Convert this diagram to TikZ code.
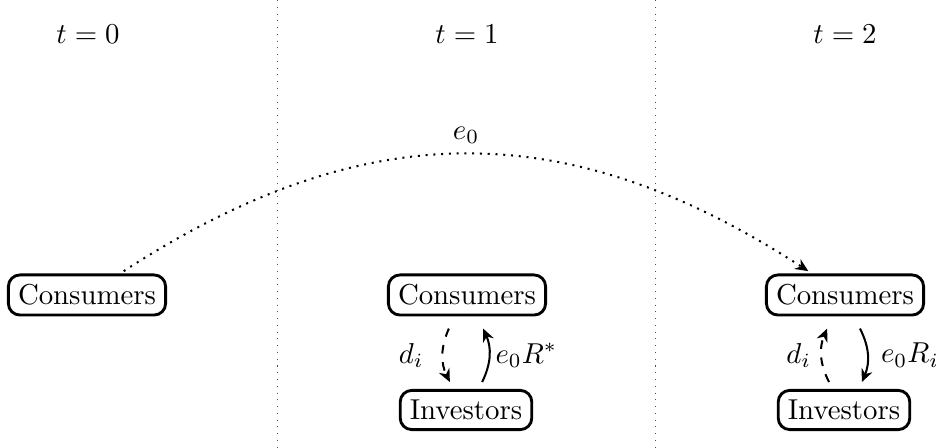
\documentclass[tikz,border=0pt]{standalone}
\usetikzlibrary{arrows.meta}
\begin{document}
\begin{tikzpicture}[x=0.3472pt,y=0.3472pt,
  agent/.style={draw,rounded corners=4pt,line width=1pt,inner sep=3.33pt},
  flow/.style={line width=0.7pt,-{Stealth[length=4.5pt,width=4pt]}},
  divider/.style={dotted,line width=0.35pt,black!70}]
\useasboundingbox (0,0) rectangle (936,-448);
% period dividers
\coordinate (d1t) at (277,0); \coordinate (d1b) at (277,-448);
\coordinate (d2t) at (655,0); \coordinate (d2b) at (655,-448);
\draw[divider] (d1t) -- (d1b);
\draw[divider] (d2t) -- (d2b);
% time labels
\node (t0) at (88,-34) {$t=0$};
\node (t1) at (467,-34) {$t=1$};
\node (t2) at (845,-34) {$t=2$};
% agents
\node[agent] (c0) at (87,-295) {Consumers};
\node[agent] (c1) at (467,-295) {Consumers};
\node[agent] (c2) at (845,-295) {Consumers};
\node[agent] (i1) at (466,-410) {Investors};
\node[agent] (i2) at (844,-410) {Investors};
% endowment carried to t=2
\draw[flow,dotted,shorten <=1.5pt,shorten >=1.5pt] (c0) to[out=33,in=147,looseness=1.08] node[above]{$e_0$} (c2);
% t=1 flows
\draw[flow,dashed] ([xshift=-6.3pt,yshift=-4.2pt]c1.south) to[bend right=25]
  node[left,xshift=-3pt]{$d_i$} ([xshift=-5.6pt,yshift=2.4pt]i1.north);
\draw[flow] ([xshift=5.6pt,yshift=2.4pt]i1.north) to[bend right=25]
  node[right,xshift=-1.5pt]{$e_0R^{*}$} ([xshift=5.6pt,yshift=-4.2pt]c1.south);
% t=2 flows
\draw[flow,dashed] ([xshift=-5.2pt,yshift=2.4pt]i2.north) to[bend left=25]
  node[left]{$d_i$} ([xshift=-6.2pt,yshift=-4.2pt]c2.south);
\draw[flow] ([xshift=5.2pt,yshift=-4.2pt]c2.south) to[bend left=25]
  node[right,xshift=1pt]{$e_0R_i$} ([xshift=6.2pt,yshift=2.4pt]i2.north);
\end{tikzpicture}
\end{document}
